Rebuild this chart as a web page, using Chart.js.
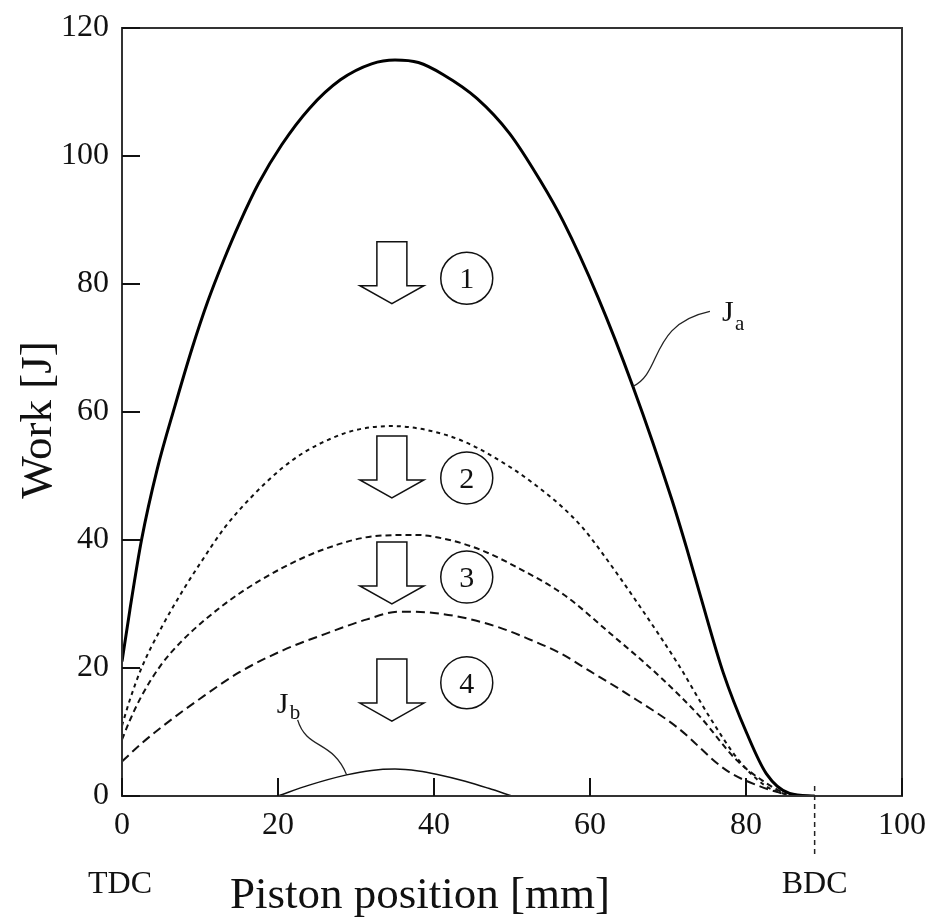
<!DOCTYPE html>
<html>
<head>
<meta charset="utf-8">
<script src="https://cdn.jsdelivr.net/npm/chart.js@4.4.0/dist/chart.umd.min.js"></script>
<style>
  html, body { margin: 0; padding: 0; background: #fff; }
</style>
</head>
<body>
<canvas id="chart" width="930" height="919"></canvas>
<script>
// curve J_a (solid, top)
var jaX = [0, 1, 2.5, 4.5, 6.8, 9, 11, 13, 15.1, 17.5, 20.5, 24, 28, 32, 35, 38, 41.2, 45.5, 49.7, 53.6, 56.6, 61, 65.5, 70.5, 72.4, 74.1, 77.1, 80.1, 82.6, 85.6, 88.8];
var jaY = [21, 29, 40, 51, 61, 70, 77.3, 83.6, 89.6, 95.7, 101.8, 107.4, 111.9, 114.4, 115, 114.6, 112.7, 109, 103.5, 96.2, 89.7, 78, 64, 46.3, 38.7, 31.5, 19.2, 9.8, 3.5, 0.4, 0];
// curve 2 (dotted)
var c2X = [0, 1, 2.5, 5.1, 8, 10, 13.2, 16.5, 20.5, 23.5, 26.9, 30, 34.6, 39, 44, 50, 53, 56.4, 59, 61.3, 66.4, 71.5, 75.4, 79.2, 82.6, 85.2];
var c2Y = [11, 15, 20, 26.4, 32.5, 36.3, 42, 46.6, 51.2, 53.8, 55.9, 57.2, 57.8, 57.2, 55.3, 51.2, 48.6, 45.2, 42, 38.4, 29.6, 20.2, 12.2, 5.4, 1.5, 0.2];
// curve 3 (dashed)
var c3X = [0, 1, 2.5, 4.9, 7.5, 10.6, 15, 20.5, 26, 32.4, 37.6, 42, 46.1, 51, 56.7, 62.6, 69, 74.1, 78.8, 82.6, 85.2];
var c3Y = [8.8, 11.8, 15.6, 20.3, 24, 27.5, 31.6, 35.6, 38.6, 40.6, 40.8, 40, 38.4, 35.5, 31.4, 25.4, 18.6, 12.4, 5.6, 2, 0.2];
// curve 4 (long dashes)
var c4X = [0, 2.5, 5, 10, 15, 20.7, 26, 31.4, 35.5, 40, 44, 48.2, 52, 56.2, 60, 64.7, 71.1, 77.5, 81.8, 85.2];
var c4Y = [5.4, 8.2, 10.7, 15.2, 19.3, 22.8, 25.3, 27.6, 28.8, 28.6, 27.8, 26.4, 24.6, 22.3, 19.5, 16, 10.8, 4, 1.5, 0.2];
// curve J_b (thin solid, bottom)
var jbX = [20, 24, 28.8, 32, 35, 38, 40.3, 44, 47, 50];
var jbY = [0, 1.7, 3.3, 4, 4.2, 3.9, 3.4, 2.3, 1.2, 0];

// annotations (data units)
var arrowX = 34.6;
var arrowTops = [86.6, 56.25, 39.7, 21.4];
var circleX = 44.2;
var circleY = [80.9, 49.7, 34.2, 17.7];
var circleText = ['1', '2', '3', '4'];
var bdcX = 88.8;

var FONT = "'Liberation Serif', 'DejaVu Serif', serif";

function pts(xs, ys) {
  return xs.map(function (x, i) { return { x: x, y: ys[i] }; });
}

function drawArrow(ctx, cx, top) {
  ctx.beginPath();
  ctx.moveTo(cx - 15, top);
  ctx.lineTo(cx + 15, top);
  ctx.lineTo(cx + 15, top + 44);
  ctx.lineTo(cx + 32, top + 44);
  ctx.lineTo(cx, top + 62);
  ctx.lineTo(cx - 32, top + 44);
  ctx.lineTo(cx - 15, top + 44);
  ctx.closePath();
  ctx.fillStyle = '#fff';
  ctx.fill();
  ctx.lineWidth = 1.5;
  ctx.strokeStyle = '#111';
  ctx.stroke();
}

var extras = {
  id: 'extras',
  beforeDraw: function (chart) {
    var ctx = chart.ctx;
    ctx.save();
    ctx.fillStyle = '#fff';
    ctx.fillRect(0, 0, chart.width, chart.height);
    ctx.restore();
  },
  afterDatasetsDraw: function (chart) {
    var ctx = chart.ctx;
    var xs = chart.scales.x, ys = chart.scales.y;
    var a = chart.chartArea;
    ctx.save();

    // frame
    ctx.strokeStyle = '#333';
    ctx.lineWidth = 2;
    ctx.strokeRect(a.left, a.top, a.right - a.left, a.bottom - a.top);

    // inward ticks
    ctx.strokeStyle = '#111';
    ctx.lineWidth = 2;
    xs.ticks.forEach(function (t) {
      var px = xs.getPixelForValue(t.value);
      ctx.beginPath();
      ctx.moveTo(px, a.bottom);
      ctx.lineTo(px, a.bottom - 18);
      ctx.stroke();
    });
    ys.ticks.forEach(function (t) {
      var py = ys.getPixelForValue(t.value);
      ctx.beginPath();
      ctx.moveTo(a.left, py);
      ctx.lineTo(a.left + 18, py);
      ctx.stroke();
    });

    // arrows and numbered circles
    arrowTops.forEach(function (v) {
      drawArrow(ctx, xs.getPixelForValue(arrowX), ys.getPixelForValue(v));
    });
    ctx.font = '30px ' + FONT;
    ctx.textAlign = 'center';
    ctx.textBaseline = 'middle';
    circleY.forEach(function (v, i) {
      var cx = xs.getPixelForValue(circleX), cy = ys.getPixelForValue(v);
      ctx.beginPath();
      ctx.arc(cx, cy, 26, 0, Math.PI * 2);
      ctx.lineWidth = 1.5;
      ctx.strokeStyle = '#111';
      ctx.stroke();
      ctx.fillStyle = '#111';
      ctx.fillText(circleText[i], cx, cy + 2);
    });

    // J_a leader and label
    var ax = xs.getPixelForValue(65.5), ay = ys.getPixelForValue(64);
    ctx.beginPath();
    ctx.moveTo(ax, ay);
    ctx.bezierCurveTo(ax + 30, ay - 14, ax + 16, ay - 62, ax + 77, ay - 75);
    ctx.lineWidth = 1.3;
    ctx.strokeStyle = '#222';
    ctx.stroke();
    ctx.fillStyle = '#111';
    ctx.textAlign = 'left';
    ctx.textBaseline = 'alphabetic';
    ctx.font = '30px ' + FONT;
    ctx.fillText('J', ax + 89, ay - 65);
    ctx.font = '21px ' + FONT;
    ctx.fillText('a', ax + 102, ay - 56);

    // J_b leader and label
    var bx = xs.getPixelForValue(28.8), by = ys.getPixelForValue(3.3);
    ctx.beginPath();
    ctx.moveTo(bx - 49, by - 55);
    ctx.bezierCurveTo(bx - 40, by - 25, bx - 14, by - 35, bx, by);
    ctx.lineWidth = 1.3;
    ctx.stroke();
    ctx.font = '30px ' + FONT;
    ctx.fillText('J', bx - 70, by - 62);
    ctx.font = '21px ' + FONT;
    ctx.fillText('b', bx - 57, by - 56);

    // BDC dashed marker
    var dx = xs.getPixelForValue(bdcX);
    ctx.beginPath();
    ctx.setLineDash([5, 4]);
    ctx.moveTo(dx, a.bottom - 10);
    ctx.lineTo(dx, a.bottom + 60);
    ctx.lineWidth = 1.5;
    ctx.stroke();
    ctx.setLineDash([]);

    // TDC / BDC labels
    ctx.font = '32px ' + FONT;
    ctx.textAlign = 'center';
    ctx.fillText('TDC', xs.getPixelForValue(0) - 2, 893);
    ctx.fillText('BDC', dx, 893);

    // axis titles
    ctx.font = '45px ' + FONT;
    ctx.fillText('Piston position [mm]', 420, 908);
    ctx.save();
    ctx.translate(51, 420);
    ctx.rotate(-Math.PI / 2);
    ctx.fillText('Work [J]', 0, 0);
    ctx.restore();

    ctx.restore();
  }
};

var ctx = document.getElementById('chart').getContext('2d');
new Chart(ctx, {
  type: 'line',
  data: {
    datasets: [
      { label: 'Ja', data: pts(jaX, jaY), borderColor: '#000', borderWidth: 3, pointRadius: 0, cubicInterpolationMode: 'monotone', fill: false },
      { label: '2', data: pts(c2X, c2Y), borderColor: '#111', borderWidth: 2, borderDash: [4, 4], pointRadius: 0, cubicInterpolationMode: 'monotone', fill: false },
      { label: '3', data: pts(c3X, c3Y), borderColor: '#111', borderWidth: 2, borderDash: [6, 4], pointRadius: 0, cubicInterpolationMode: 'monotone', fill: false },
      { label: '4', data: pts(c4X, c4Y), borderColor: '#111', borderWidth: 2, borderDash: [9, 5], pointRadius: 0, cubicInterpolationMode: 'monotone', fill: false },
      { label: 'Jb', data: pts(jbX, jbY), borderColor: '#111', borderWidth: 1.5, pointRadius: 0, cubicInterpolationMode: 'monotone', fill: false }
    ]
  },
  options: {
    responsive: false,
    animation: false,
    layout: { padding: { top: 28, right: 28, left: 0, bottom: 0 } },
    plugins: { legend: { display: false }, tooltip: { enabled: false } },
    scales: {
      x: {
        type: 'linear', min: 0, max: 100,
        ticks: { stepSize: 20, color: '#111', padding: 10, maxRotation: 0, font: { family: FONT, size: 32 } },
        grid: { display: false, drawTicks: false },
        border: { display: false },
        afterFit: function (s) { s.height = 123; s.paddingLeft = 0; s.paddingRight = 0; }
      },
      y: {
        min: 0, max: 120,
        ticks: { stepSize: 20, color: '#111', padding: 13, font: { family: FONT, size: 32 } },
        grid: { display: false, drawTicks: false },
        border: { display: false },
        afterFit: function (s) { s.width = 122; s.paddingTop = 0; s.paddingBottom = 0; }
      }
    }
  },
  plugins: [extras]
});
</script>
</body>
</html>
